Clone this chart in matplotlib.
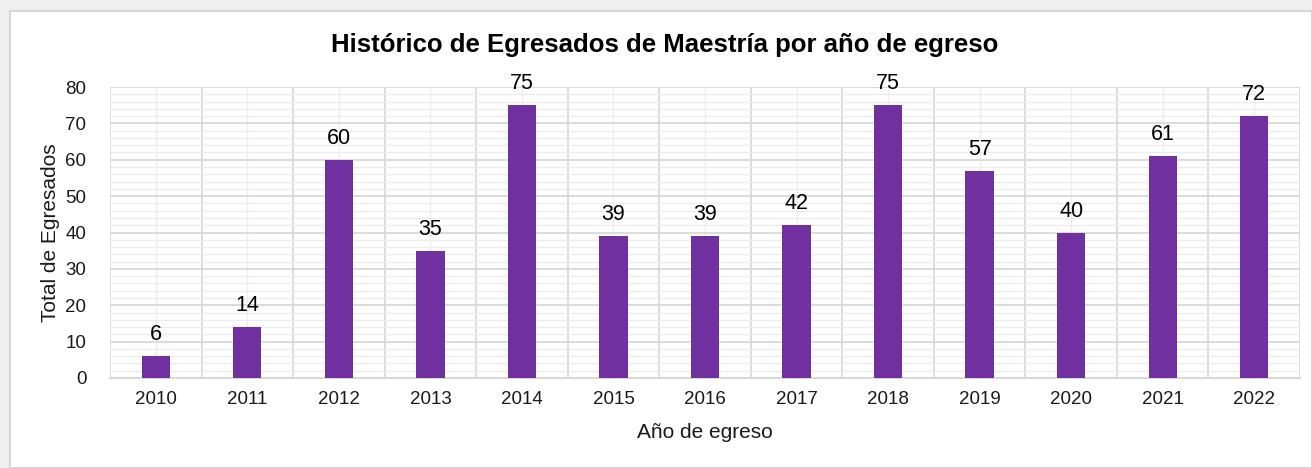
import matplotlib
matplotlib.use("Agg")
import matplotlib.pyplot as plt
from matplotlib.patches import Rectangle
from matplotlib.ticker import MultipleLocator
import numpy as np

years = ["2010", "2011", "2012", "2013", "2014", "2015", "2016",
         "2017", "2018", "2019", "2020", "2021", "2022"]
egresados = [6, 14, 60, 35, 75, 39, 39, 42, 75, 57, 40, 61, 72]

plt.rcParams['font.family'] = ['Liberation Sans', 'DejaVu Sans']

W, H = 1312, 468
fig = plt.figure(figsize=(W/100, H/100), dpi=100)
fig.patch.set_facecolor('#efefef')
fig.patches.append(Rectangle((10/W, 0), 1 - 10/W, 1 - 11/H, transform=fig.transFigure,
                             facecolor='white', edgecolor='#d6d6d6', linewidth=1.5, zorder=-5))

ax = fig.add_axes([110/W, 1 - 378/H, 1190/W, (378 - 87)/H])
ax.set_zorder(2)
ax.set_facecolor('white')
x = np.arange(len(years))
bars = ax.bar(x, egresados, width=0.31, color='#7030A0', zorder=3)
for xi, v in zip(x, egresados):
    ax.text(xi, v + 3.0, str(v), ha='center', va='bottom', fontsize=15.5, color='black', zorder=4)

ax.set_xlim(-0.5, len(years) - 0.5)
ax.set_ylim(0, 80)
ax.yaxis.set_major_locator(MultipleLocator(10))
ax.yaxis.set_minor_locator(MultipleLocator(2))
ax.set_xticks(x)
ax.set_xticklabels(years)

# gridlines
ax.grid(which='minor', axis='y', color='#ececec', linewidth=1.0, zorder=0)
ax.grid(which='major', axis='y', color='#d9d9d9', linewidth=1.3, zorder=1)
for b in np.arange(-0.5, len(years), 1.0):
    ax.axvline(b, color='#d9d9d9', linewidth=1.3, zorder=1)
for c in x:
    ax.axvline(c, color='#ececec', linewidth=1.0, zorder=0)

for s in ['top', 'right', 'left']:
    ax.spines[s].set_visible(False)
ax.spines['bottom'].set_color('#d9d9d9')
ax.spines['bottom'].set_linewidth(1.5)
ax.tick_params(axis='both', which='both', length=0, labelsize=13.5, colors='#1a1a1a')
ax.tick_params(axis='x', pad=9)
ax.tick_params(axis='y', pad=17)

ax.set_xlabel("Año de egreso", fontsize=15, labelpad=11, color='#1a1a1a')
ax.set_ylabel("Total de Egresados", fontsize=15, labelpad=4, color='#1a1a1a')
fig.text(665/W, 1 - 45/H, "Histórico de Egresados de Maestría por año de egreso",
         ha='center', va='center', fontsize=18.5, fontweight='bold')

fig.savefig("out.png", dpi=100, facecolor=fig.get_facecolor())
